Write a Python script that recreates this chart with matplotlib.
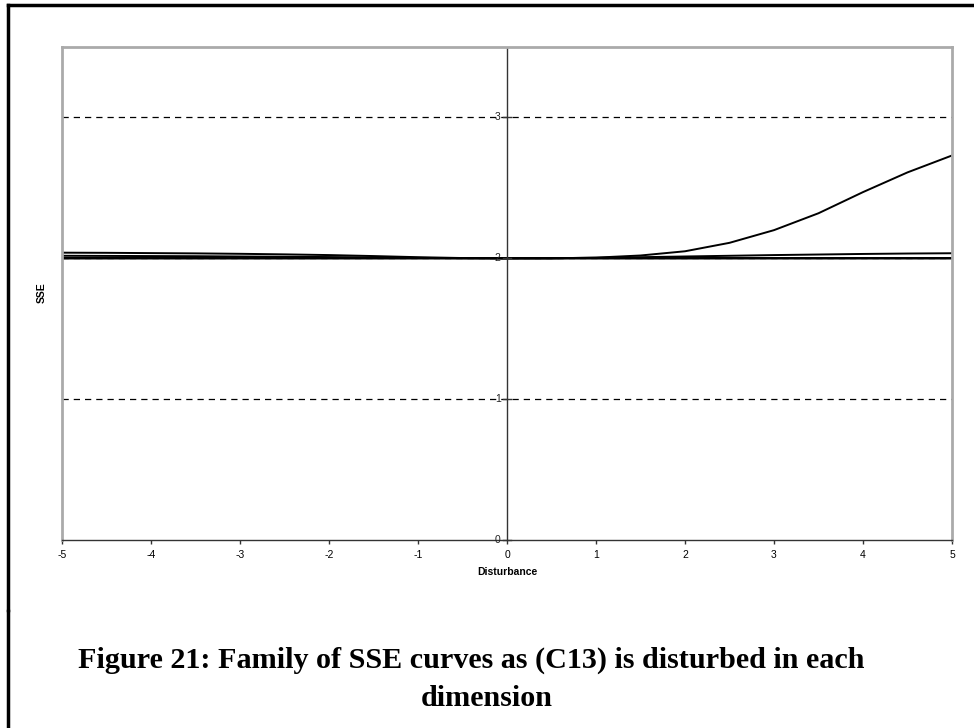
import matplotlib
matplotlib.use("Agg")
from matplotlib import pyplot as plt
from matplotlib.lines import Line2D

# disturbance values along each dimension
X = [-5.0, -4.5, -4.0, -3.5, -3.0, -2.5, -2.0, -1.5, -1.0, -0.5, 0.0,
     0.5, 1.0, 1.5, 2.0, 2.5, 3.0, 3.5, 4.0, 4.5, 5.0]

# SSE, one list per disturbed dimension
SSE_dim1 = [2.040, 2.039, 2.037, 2.035, 2.032, 2.028, 2.023, 2.016, 2.008, 2.002, 2.000,
            2.000, 2.000, 2.000, 2.000, 2.000, 2.000, 2.000, 2.000, 2.000, 2.000]
SSE_dim2 = [2.018, 2.017, 2.016, 2.015, 2.013, 2.011, 2.009, 2.006, 2.003, 2.001, 2.000,
            2.000, 2.000, 2.000, 2.000, 2.000, 2.000, 2.000, 2.000, 2.000, 2.000]
SSE_dim3 = [2.000, 2.000, 2.000, 2.000, 2.000, 2.000, 2.000, 2.000, 2.000, 2.000, 2.000,
            2.000, 2.005, 2.020, 2.050, 2.110, 2.200, 2.320, 2.470, 2.610, 2.730]
SSE_dim4 = [2.000, 2.000, 2.000, 2.000, 2.000, 2.000, 2.000, 2.000, 2.000, 2.000, 2.000,
            2.001, 2.004, 2.008, 2.013, 2.018, 2.023, 2.027, 2.031, 2.034, 2.036]
SSE_dim5 = [2.000] * 21

yticks = [0, 1, 2, 3]
xticks = [-5, -4, -3, -2, -1, 0, 1, 2, 3, 4, 5]

plt.rcParams["font.family"] = ["Liberation Sans", "DejaVu Sans"]

fig = plt.figure(figsize=(9.74, 7.28), dpi=100)
ax = fig.add_axes([0.0637, 0.2582, 0.9137, 0.6772])

for s in [SSE_dim1, SSE_dim2, SSE_dim3, SSE_dim4, SSE_dim5]:
    ax.plot(X, s, color="black", lw=1.4)

for v in [1, 2, 3]:
    ax.axhline(v, color="black", lw=0.9, ls=(0, (5, 4)), zorder=0)

ax.set_xlim(-5, 5)
ax.set_ylim(0, 3.5)

for side in ["top", "right", "left"]:
    ax.spines[side].set_color("#aaaaaa")
    ax.spines[side].set_linewidth(2)
ax.spines["bottom"].set_color("#333333")
ax.spines["bottom"].set_linewidth(1)

# vertical axis crossing at zero, labels drawn beside it
ax.axvline(0, color="#333333", lw=1)
ax.set_yticks([])
for v in yticks:
    ax.plot([-0.045, 0.045], [v, v], color="#333333", lw=1, clip_on=False)
    ax.text(-0.07, v, str(v), fontsize=7.5, ha="right", va="center", color="#222222")

ax.set_xticks(xticks)
ax.set_xticklabels([str(v) for v in xticks], fontsize=7.5)
ax.tick_params(axis="x", length=3, width=1, color="#333333", pad=4)

ax.set_xlabel("Disturbance", fontsize=7.5, fontweight="bold", labelpad=5)
fig.text(0.043, 1 - 293 / 728, "SSE", fontsize=7.5, fontweight="bold", rotation=90,
         ha="center", va="center")

# figure border (top and left visible, small break on the left)
fig.add_artist(Line2D([7.5 / 974, 1.0], [1 - 4.5 / 728, 1 - 4.5 / 728],
                      color="black", lw=2.5, transform=fig.transFigure))
fig.add_artist(Line2D([7.5 / 974, 7.5 / 974], [1 - 610 / 728, 1 - 4.5 / 728],
                      color="black", lw=2.5, transform=fig.transFigure))
fig.add_artist(Line2D([7.5 / 974, 7.5 / 974], [0.0, 1 - 611 / 728],
                      color="black", lw=2.5, transform=fig.transFigure))

fig.text(0.484, 1 - 668 / 728, "Figure 21: Family of SSE curves as (C13) is disturbed in each",
         family=["Liberation Serif", "DejaVu Serif"], fontweight="bold", fontsize=21.7,
         ha="center", va="baseline")
fig.text(0.5, 1 - 706 / 728, "dimension",
         family=["Liberation Serif", "DejaVu Serif"], fontweight="bold", fontsize=21.7,
         ha="center", va="baseline")

fig.savefig("out.png", dpi=100)
